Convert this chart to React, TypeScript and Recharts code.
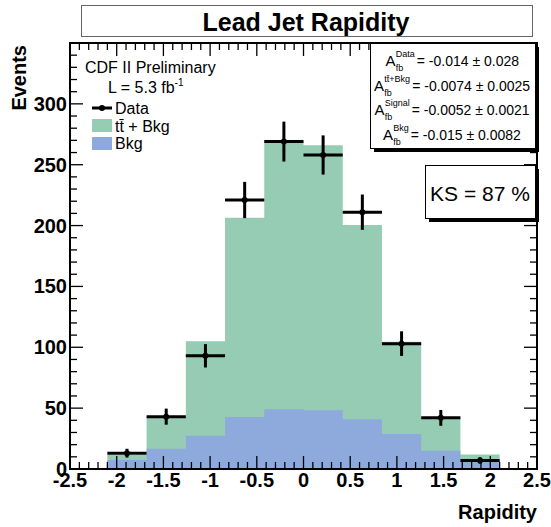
import React from 'react';
import { ComposedChart, Area, Scatter, XAxis, YAxis, ErrorBar } from 'recharts';

// ---- data ----
const binEdges = [-2.1, -1.68, -1.26, -0.84, -0.42, 0, 0.42, 0.84, 1.26, 1.68, 2.1];
const binCenters = [-1.89, -1.47, -1.05, -0.63, -0.21, 0.21, 0.63, 1.05, 1.47, 1.89];
const binHalfWidths = [0.21, 0.21, 0.21, 0.21, 0.21, 0.21, 0.21, 0.21, 0.21, 0.21];
const ttBkgValues = [11.5, 43, 105, 206.5, 269.5, 266, 200.5, 104.6, 41.7, 12];
const bkgValues = [7.4, 16.7, 27.4, 42.7, 49, 48.2, 40.8, 28.8, 15, 7.4];
const dataValues = [13, 43, 93, 221, 269, 258, 211, 103, 42, 7];
const dataErrors = [3.6, 6.6, 9.6, 14.9, 16.4, 16.1, 14.5, 10.1, 6.5, 2.6];

const xTickLabels = [-2.5, -2, -1.5, -1, -0.5, 0, 0.5, 1, 1.5, 2, 2.5];
const yTickLabels = [0, 50, 100, 150, 200, 250, 300];
const xAllTicks = Array.from({ length: 51 }, (_, i) => Math.round((-2.5 + i * 0.1) * 10) / 10);
const yAllTicks = Array.from({ length: 36 }, (_, i) => i * 10);

const statLines = [
  { sup: 'Data', value: '= -0.014 ± 0.028' },
  { sup: 'tt̄+Bkg', value: '= -0.0074 ± 0.0025' },
  { sup: 'Signal', value: '= -0.0052 ± 0.0021' },
  { sup: 'Bkg', value: '= -0.015 ± 0.0082' },
];

const GREEN = '#96cbb4';
const BLUE = '#8eaadc';
const FONT = '"Liberation Sans", Arial, Helvetica, sans-serif';

// plot frame (layout)
const PLOT_LEFT = 70;
const PLOT_RIGHT = 537;
const PLOT_TOP = 43;
const PLOT_BOTTOM = 469;
const MAJOR_LEN = 13;
const MINOR_LEN = 7;
const X_MARGIN = 4;
const Y_MARGIN = 3;

const histData = binEdges.map((x, i) => ({
  x,
  ttBkg: ttBkgValues[Math.min(i, ttBkgValues.length - 1)],
  bkg: bkgValues[Math.min(i, bkgValues.length - 1)],
}));

const points = binCenters.map((x, i) => ({
  x,
  y: dataValues[i],
  ex: binHalfWidths[i],
  ey: dataErrors[i],
}));

const isIn = (arr: number[], v: number) => arr.some((a) => Math.abs(a - v) < 1e-6);

const XTick = (props: any) => {
  const { x, y, payload } = props;
  const v = payload.value;
  const major = isIn(xTickLabels, v);
  const len = major ? MAJOR_LEN : MINOR_LEN;
  const bottom = y - X_MARGIN;
  return (
    <g>
      <line x1={x} x2={x} y1={bottom} y2={bottom - len} stroke="#000" strokeWidth={1.3} />
      <line x1={x} x2={x} y1={PLOT_TOP} y2={PLOT_TOP + len} stroke="#000" strokeWidth={1.3} />
      {major && (
        <text x={x} y={y + 14.2} textAnchor="middle" fontFamily={FONT} fontWeight="bold" fontSize={20} fill="#000">
          {String(v)}
        </text>
      )}
    </g>
  );
};

const YTick = (props: any) => {
  const { x, y, payload } = props;
  const v = payload.value;
  const major = v % 50 === 0;
  const len = major ? MAJOR_LEN : MINOR_LEN;
  const left = x + Y_MARGIN;
  return (
    <g>
      <line x1={left} x2={left + len} y1={y} y2={y} stroke="#000" strokeWidth={1.3} />
      <line x1={PLOT_RIGHT} x2={PLOT_RIGHT - len} y1={y} y2={y} stroke="#000" strokeWidth={1.3} />
      {isIn(yTickLabels, v) && (
        <text x={x} y={y} textAnchor="end" dominantBaseline="central" fontFamily={FONT} fontWeight="bold" fontSize={20} fill="#000">
          {String(v)}
        </text>
      )}
    </g>
  );
};

const statLayout = [
  { xA: 385.5, base: 66, supW: 19 },
  { xA: 374, base: 91, supW: 26 },
  { xA: 374.5, base: 115, supW: 25 },
  { xA: 383, base: 140, supW: 15.5 },
];

export default function App() {
  const H = 0.01;
  return (
    <div style={{ position: 'absolute', left: 0, top: 0, width: 551, height: 527, background: '#fff' }}>
      <ComposedChart
        width={551}
        height={527}
        data={histData}
        margin={{ top: PLOT_TOP, right: 551 - PLOT_RIGHT, bottom: 527 - PLOT_BOTTOM, left: PLOT_LEFT }}
      >
        <XAxis xAxisId="x" dataKey="x" type="number" domain={[-2.5, 2.5]} allowDataOverflow
          ticks={xAllTicks} interval={0} tickLine={false} tickSize={0} tickMargin={X_MARGIN}
          axisLine={false} tick={<XTick />} height={H} />
        <YAxis yAxisId="y" type="number" domain={[0, 350]} allowDataOverflow
          ticks={yAllTicks} interval={0} tickLine={false} tickSize={0} tickMargin={Y_MARGIN}
          axisLine={false} tick={<YTick />} width={H} />

        <Area xAxisId="x" yAxisId="y" type="stepAfter" dataKey="ttBkg" stroke="none"
          fill={GREEN} fillOpacity={1} isAnimationActive={false} />
        <Area xAxisId="x" yAxisId="y" type="stepAfter" dataKey="bkg" stroke="none"
          fill={BLUE} fillOpacity={1} isAnimationActive={false} />

        <Scatter xAxisId="x" yAxisId="y" data={points} dataKey="y" fill="#000" isAnimationActive={false}
          shape={(p: any) => <circle cx={p.cx} cy={p.cy} r={3} fill="#000" />}>
          <ErrorBar dataKey="ex" direction="x" width={0} stroke="#000" strokeWidth={3} isAnimationActive={false} />
          <ErrorBar dataKey="ey" direction="y" width={0} stroke="#000" strokeWidth={3} isAnimationActive={false} />
        </Scatter>
      </ComposedChart>

      <svg width={551} height={527} style={{ position: 'absolute', left: 0, top: 0 }}
        fontFamily={FONT}>
        {/* frame */}
        <rect x={PLOT_LEFT} y={PLOT_TOP} width={PLOT_RIGHT - PLOT_LEFT} height={PLOT_BOTTOM - PLOT_TOP}
          fill="none" stroke="#000" strokeWidth={2} />

        {/* title */}
        <rect x={81.5} y={5.5} width={451} height={31} fill="#fff" stroke="#666" strokeWidth={1} />
        <text x={306} y={22} textAnchor="middle" dominantBaseline="central" fontSize={25} fontWeight="bold">
          Lead Jet Rapidity
        </text>

        {/* axis titles */}
        <text x={537} y={512} textAnchor="end" dominantBaseline="central" fontSize={20} fontWeight="bold">
          Rapidity
        </text>
        <text transform="translate(19,45) rotate(-90)" textAnchor="end" dominantBaseline="central"
          fontSize={20} fontWeight="bold">
          Events
        </text>

        {/* legend */}
        <text x={85} y={67} dominantBaseline="central" fontSize={16}>CDF II Preliminary</text>
        <text x={108} y={93} fontSize={16}>
          L = 5.3 fb<tspan dy={-7} fontSize={10}>-1</tspan>
        </text>
        <line x1={92} y1={108} x2={112} y2={108} stroke="#000" strokeWidth={3} />
        <circle cx={102} cy={108} r={3} fill="#000" />
        <text x={115} y={108} dominantBaseline="central" fontSize={16}>Data</text>
        <rect x={92} y={119} width={20} height={13} fill={GREEN} />
        <text x={115} y={126} dominantBaseline="central" fontSize={16}>tt̄ + Bkg</text>
        <rect x={92} y={137} width={20} height={13} fill={BLUE} />
        <text x={115} y={143} dominantBaseline="central" fontSize={16}>Bkg</text>

        {/* stats box */}
        <rect x={374} y={47} width={165} height={105} fill="#000" />
        <rect x={370.5} y={43.5} width={165} height={105} fill="#fff" stroke="#000" strokeWidth={1} />
        {statLines.map((s, i) => {
          const L = statLayout[i];
          const supX = L.xA + 10.3;
          const eqX = supX + L.supW + 2;
          return (
            <g key={i}>
              <text x={L.xA} y={L.base} fontSize={15}>A</text>
              <text x={supX} y={L.base - 9} fontSize={9}>{s.sup}</text>
              <text x={supX} y={L.base + 5} fontSize={9}>fb</text>
              <text x={eqX} y={L.base} fontSize={14}>{s.value}</text>
            </g>
          );
        })}

        {/* KS box */}
        <rect x={429} y={169} width={110} height={53} fill="#000" />
        <rect x={425.5} y={165.5} width={110} height={53} fill="#fff" stroke="#000" strokeWidth={1} />
        <text x={480} y={193} textAnchor="middle" dominantBaseline="central" fontSize={21}>KS = 87 %</text>
      </svg>
    </div>
  );
}
